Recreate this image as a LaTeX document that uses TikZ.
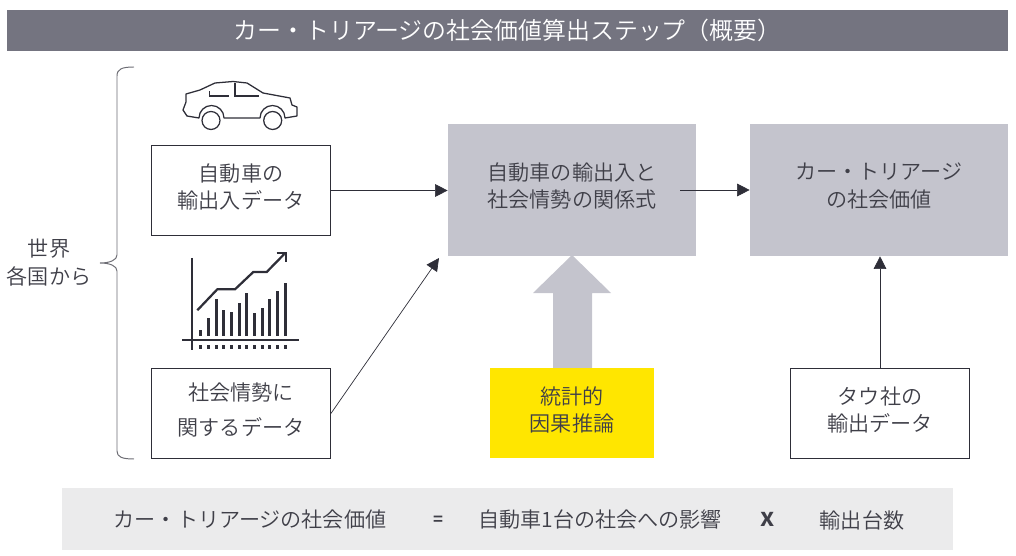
\documentclass[tikz,border=0pt]{standalone}
\usepackage{fontspec}
\setmainfont{Noto Sans CJK JP}[UprightFont=* DemiLight, BoldFont=* Bold]
\usetikzlibrary{arrows.meta}
\definecolor{inkgray}{HTML}{2E2E38}
\definecolor{txtgray}{HTML}{3F3F48}
\definecolor{bargray}{HTML}{747480}
\definecolor{boxgray}{HTML}{C4C4CD}
\definecolor{paegray}{HTML}{EBEBEC}
\definecolor{keyyellow}{HTML}{FFE600}
\tikzset{
  txtnode/.style={text=txtgray, align=center, inner sep=0pt, font=\fontsize{15pt}{19.4pt}\selectfont},
  outbox/.style={txtnode, draw=inkgray, line width=0.7pt, minimum width=4.47cm, minimum height=2.25cm, text depth=0.22cm},
  graybox/.style={txtnode, fill=boxgray, minimum width=6.2cm, minimum height=3.3cm, text depth=0.24cm},
  arr/.style={draw=inkgray, line width=0.5pt, -{Triangle[length=9pt,width=9pt]}},
  icon/.style={draw=inkgray, line width=1.6pt}
}
\begin{document}
\begin{tikzpicture}[x=0.025cm, y=-0.025cm]
  \useasboundingbox (0,0) rectangle (1016,556);
  %
  \node[fill=bargray, minimum width=25.025cm, minimum height=1.025cm, inner sep=0pt, text=white, font=\fontsize{17pt}{20pt}\selectfont] (title) at (507.5,30.5) {カー・トリアージの社会価値算出ステップ（概要）};
  %
  \node[txtnode] (world) at (49,262.5) {世界\\各国から};          % left brace label
  \draw[draw=inkgray!70, line width=0.7pt] (134,67) .. controls (122,67) and (117,69) .. (117,76) -- (117,255) .. controls (117,260) and (110,263) .. (100,263) .. controls (110,263) and (117,266) .. (117,271) -- (117,451) .. controls (117,457) and (122,459) .. (134,459);
  %
  \node[outbox] (import) at (241,190.5) {自動車の\\輸出入データ};      % source boxes
  \node[outbox, font=\fontsize{15pt}{24.4pt}\selectfont] (social) at (241,413.5) {社会情勢に\\関するデータ};
  \node[outbox] (tau) at (880,413.5) {タウ社の\\輸出データ};
  %
  \node[graybox] (relation) at (572,190) {自動車の輸出入と\\社会情勢の関係式};    % result boxes
  \node[graybox, minimum width=6.45cm] (value) at (879,190) {カー・トリアージ\\の社会価値};
  %
  \fill[boxgray] (572,255) -- (611,293) -- (592,293) -- (592,368) -- (553,368) -- (553,293) -- (533,293) -- cycle;
  \node[txtnode, fill=keyyellow, minimum width=4.1cm, minimum height=2.25cm, text depth=0.2cm] (causal) at (572,413) {統計的\\因果推論};
  %
  \node[fill=paegray, minimum width=22.275cm, minimum height=1.55cm] (formula) at (507.5,519) {};
  \node[txtnode] (lhs) at (250,520) {カー・トリアージの社会価値};       % formula row
  \node[txtnode, font=\bfseries\fontsize{12pt}{19pt}\selectfont] (eq) at (438,521) {=};
  \node[txtnode] (impact) at (600,520) {自動車1台の社会への影響};
  \node[txtnode, font=\bfseries\fontsize{18pt}{19pt}\selectfont] (times) at (768,519) {x};
  \node[txtnode] (units) at (862,520) {輸出台数};
  %
  \coordinate (arrin) at (680,190);
  \coordinate (arrtip) at (439,258);
  \draw[arr] (import.east) -- (import.east -| relation.west);
  \draw[arr] (social.east) -- (arrtip);
  \draw[arr] (arrin) -- (value.west);
  \draw[arr] (tau.north) -- (tau.north |- value.south);
  %
  % car icon
  \draw[draw=inkgray, line width=0.9pt, line join=round] (186,94) -- (200,90) -- (215,83) -- (233,81.5) -- (247,83) -- (263,93) -- (290,98) -- (292,105) -- (297,107) -- (297,116) -- (285,118) arc (0:-180:12.5) -- (224,118) arc (0:-180:12.5) -- (187,116) -- (183,110) -- (186,102) -- cycle;
  \draw[draw=inkgray, line width=0.9pt] (211,120.5) circle (9);
  \draw[draw=inkgray, line width=0.9pt] (272.7,120.5) circle (9);
  \draw[draw=inkgray, line width=0.9pt] (209.3,91) -- (209.3,96) -- (229.3,96);
  \draw[draw=inkgray, line width=0.9pt] (235,83) -- (235,96) -- (259.3,96);
  %
  % chart icon
  \draw[icon] (191.7,258) -- (191.7,350);
  \draw[icon] (182.3,340) -- (299,340);
  \foreach \xb/\yb in {200.3/330, 208.3/318.3, 216.3/299.3, 223.3/310, 231.3/312, 239.3/303.3, 246.7/293.3, 254.7/312.7, 262.3/308, 269.7/299.3, 277.7/291, 285.7/283.3}{
    \fill[inkgray] (\xb-1.5,\yb) rectangle (\xb+1.5,336);
    \fill[inkgray] (\xb-1.75,345) rectangle (\xb+1.75,348.5);
  }
  \draw[icon] (197.3,310.3) -- (217.3,289.3) -- (235,289.3) -- (253.3,272) -- (266.7,272) -- (284.3,254);
  \draw[icon] (276.7,253.3) -- (285.7,253.3) -- (285.7,262);
\end{tikzpicture}
\end{document}
